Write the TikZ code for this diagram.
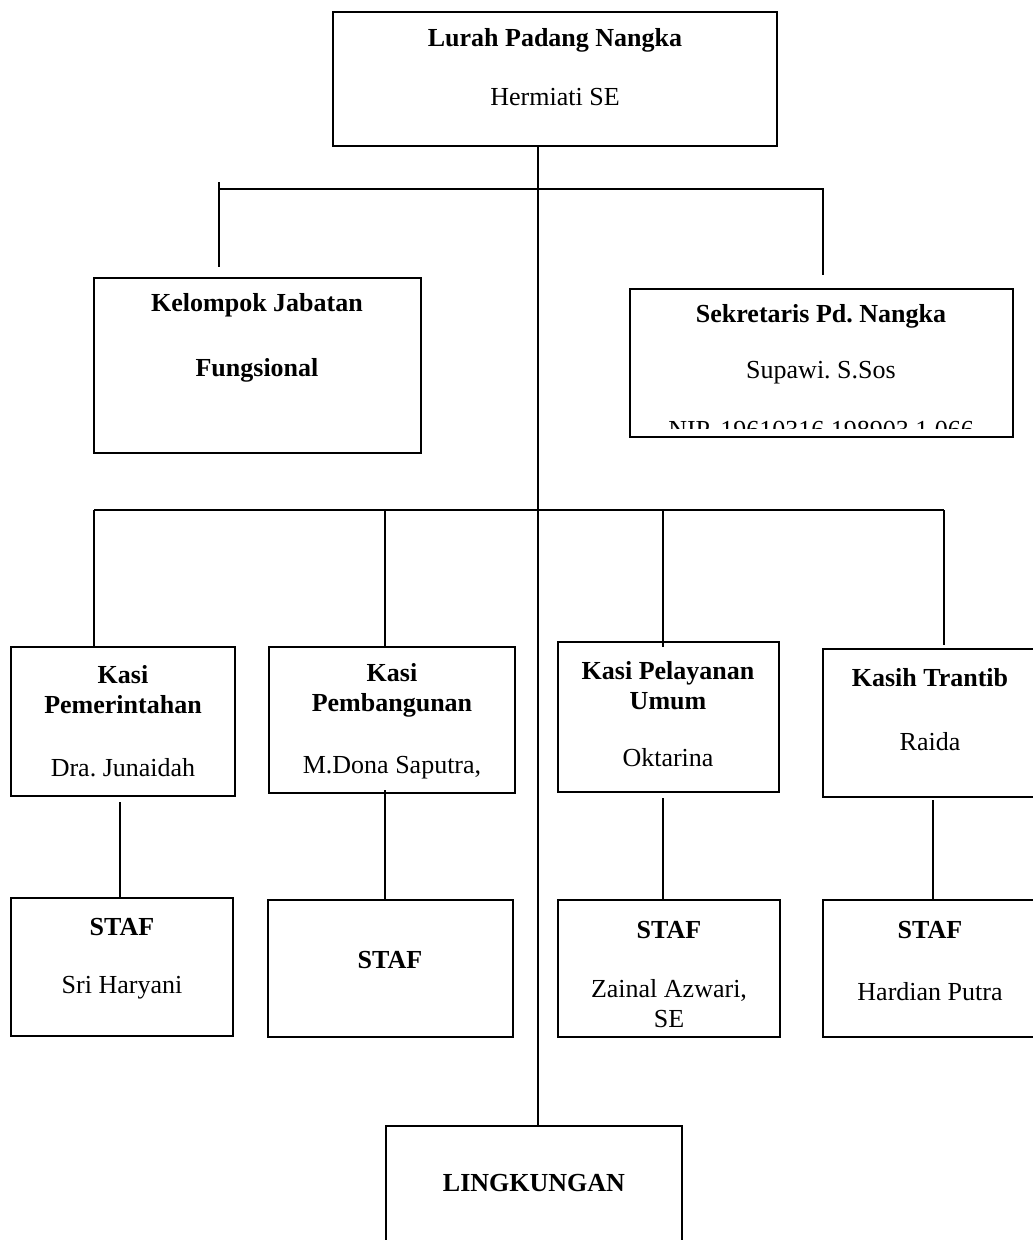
\documentclass[tikz,border=0pt]{standalone}
\usepackage{fontspec}
\setmainfont{Liberation Serif}
\frenchspacing
\begin{document}
\begin{tikzpicture}[x=1pt, y=-1pt, line width=1.5pt,
    box/.style={draw, inner sep=0pt, outer sep=0pt},
    head/.style={font=\fontsize{26}{30}\selectfont\bfseries, align=center},
    body/.style={font=\fontsize{26}{30}\selectfont, align=center}]
  \useasboundingbox (0,0) rectangle (1033,1240);

  % lurah
  \node [box, minimum width=444pt, minimum height=134pt, name=lurah] at (555,79) {};
  \node [head, name=lurah1] at (555,40) {Lurah Padang Nangka};
  \node [body, name=lurah2] at (555,97) {Hermiati SE};

  % kelompok jabatan fungsional
  \node [box, minimum width=327pt, minimum height=175pt, name=kjf] at (257.5,365.5) {};
  \node [head, name=kjf1] at (257,305) {Kelompok Jabatan};
  \node [head, name=kjf2] at (257,370) {Fungsional};

  % sekretaris
  \node [box, minimum width=383pt, minimum height=148pt, name=sek] at (821.5,363) {};
  \node [head, name=sek1] at (821,316) {Sekretaris Pd. Nangka};
  \node [body, name=sek2] at (821,373) {Supawi. S.Sos};
  \begin{scope}
    \clip (630,289) rectangle (1013,428);
    \node [body, anchor=base, name=sek3] at (821,438) {NIP. 19610316 198903 1 066};
  \end{scope}

  % kasi
  \node [box, minimum width=224pt, minimum height=149pt, name=pem] at (123,721.5) {};
  \node [head, name=pem1] at (123,690) {Kasi\\Pemerintahan};
  \node [body, name=pem2] at (123,768) {Dra. Junaidah};

  \node [box, minimum width=246pt, minimum height=146pt, name=pbg] at (392,720) {};
  \node [head, name=pbg1] at (392,690) {Kasi\\Pembangunan};
  \node [body, name=pbg2] at (392,768) {M.Dona Saputra,};

  \node [box, minimum width=221pt, minimum height=150pt, name=pel] at (668.5,717) {};
  \node [head, name=pel1] at (668,686) {Kasi Pelayanan\\Umum};
  \node [body, name=pel2] at (668,758) {Oktarina};

  \node [box, minimum width=213pt, minimum height=148pt, name=trt] at (929.5,723) {};
  \node [head, name=trt1] at (930,678) {Kasih Trantib};
  \node [body, name=trt2] at (930,742) {Raida};

  % staf
  \node [box, minimum width=222pt, minimum height=138pt, name=staf1] at (122,967) {};
  \node [head, name=staf1a] at (122,927) {STAF};
  \node [body, name=staf1b] at (122,988) {Sri Haryani};

  \node [box, minimum width=245pt, minimum height=137pt, name=staf2] at (390.5,968.5) {};
  \node [head, name=staf2a] at (390,960) {STAF};

  \node [box, minimum width=222pt, minimum height=137pt, name=staf3] at (669,968.5) {};
  \node [head, name=staf3a] at (669,930) {STAF};
  \node [body, name=staf3b] at (669,1004) {Zainal Azwari,\\SE};

  \node [box, minimum width=213pt, minimum height=137pt, name=staf4] at (929.5,968.5) {};
  \node [head, name=staf4a] at (930,930) {STAF};
  \node [body, name=staf4b] at (930,992) {Hardian Putra};

  % lingkungan
  \node [box, minimum width=296pt, minimum height=174pt, name=lingk] at (534,1213) {};
  \node [head, name=lingk1] at (534,1183) {LINGKUNGAN};

  % trunk
  \draw ([xshift=-17pt]lurah.south) -- ([xshift=-17pt]lurah.south |- lingk.north);

  % top branch
  \coordinate (hubL) at (219,189);
  \coordinate (hubR) at (823,189);
  \coordinate (kjfIn) at (219,267);
  \coordinate (sekIn) at (823,275);
  \draw ([yshift=7pt]hubL) -- (kjfIn);
  \draw (hubL) -- (hubR) -- (sekIn);

  % kasi branch
  \coordinate (barL) at (94,510);
  \coordinate (barB) at (385,510);
  \coordinate (barC) at (663,510);
  \coordinate (barR) at (944,510);
  \draw (barL) -- (barR);
  \draw (barL) -- (barL |- pem.north);
  \draw (barB) -- (barB |- pbg.north);
  \draw (barC) -- ([yshift=-5pt]barC |- pel.north);
  \draw (barR) -- ([yshift=4pt]barR |- trt.north);

  % kasi to staf
  \coordinate (pemOut) at (120,802);
  \coordinate (pbgOut) at (385,790);
  \coordinate (pelOut) at (663,798);
  \coordinate (trtOut) at (933,800);
  \draw (pemOut) -- (pemOut |- staf1.north);
  \draw (pbgOut) -- (pbgOut |- staf2.north);
  \draw (pelOut) -- (pelOut |- staf3.north);
  \draw (trtOut) -- (trtOut |- staf4.north);
\end{tikzpicture}
\end{document}
